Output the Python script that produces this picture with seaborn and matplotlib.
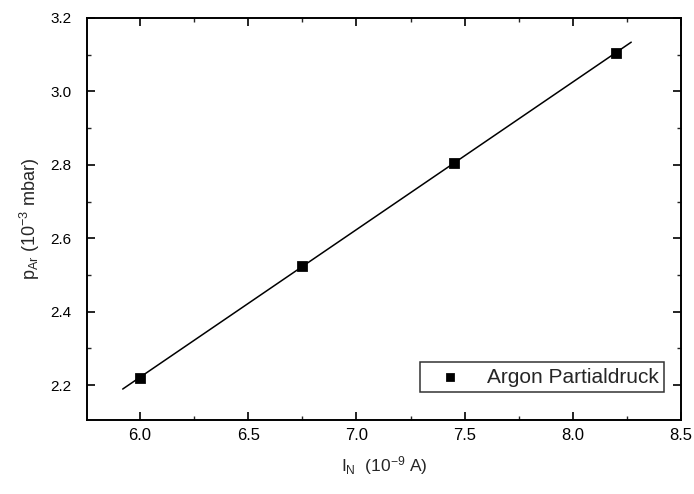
import numpy as np
import pandas as pd
import matplotlib
matplotlib.use("Agg")
import matplotlib.pyplot as plt
import seaborn as sns
from matplotlib.ticker import MultipleLocator, FormatStrFormatter

# Data
current = [6.0, 6.75, 7.45, 8.2]
pressure = [2.22, 2.525, 2.805, 3.105]
fit_range = [5.92, 8.27]
series_label = "Argon Partialdruck"

sns.set_style("ticks")
plt.rcParams['font.family'] = ['Liberation Sans', 'DejaVu Sans']
plt.rcParams['mathtext.default'] = 'regular'

df = pd.DataFrame({"I": current, "p": pressure})
slope, intercept = np.polyfit(current, pressure, 1)
fx = np.array(fit_range)
fit_df = pd.DataFrame({"I": fx, "p": slope * fx + intercept})

fig = plt.figure(figsize=(6.94, 4.94), dpi=100)
ax = fig.add_axes([87/694, 1 - 420/494, 594/694, 402/494])

sns.lineplot(data=fit_df, x="I", y="p", ax=ax, color="black", linewidth=1.1)
sns.scatterplot(data=df, x="I", y="p", ax=ax, marker="s", s=48, color="black",
                edgecolor="black", label=series_label, zorder=3)

ax.set_xlim(5.755, 8.5)
ax.set_ylim(2.105, 3.2)
ax.xaxis.set_major_locator(MultipleLocator(0.5))
ax.xaxis.set_minor_locator(MultipleLocator(0.25))
ax.yaxis.set_major_locator(MultipleLocator(0.2))
ax.yaxis.set_minor_locator(MultipleLocator(0.1))
ax.xaxis.set_major_formatter(FormatStrFormatter('%.1f'))
ax.yaxis.set_major_formatter(FormatStrFormatter('%.1f'))

ax.tick_params(which='major', direction='in', length=6, width=1.2, top=True, right=True,
               colors='black')
ax.tick_params(which='minor', direction='in', length=3, width=1.0, top=True, right=True)
ax.tick_params(axis='x', which='major', labelsize=12, pad=6)
ax.tick_params(axis='y', which='major', labelsize=11, pad=11)
for sp in ax.spines.values():
    sp.set_visible(True)
    sp.set_linewidth(1.4)
    sp.set_color('black')

ax.set_xlabel("I$_N$  (10$^{-9}$ A)", fontsize=12.5, labelpad=8)
ax.set_ylabel("p$_{Ar}$ (10$^{-3}$ mbar)", fontsize=13, labelpad=6)

leg = ax.legend(loc='lower right', bbox_to_anchor=(0.972, 0.07), borderaxespad=0,
                frameon=True, fancybox=False, edgecolor='black', fontsize=15,
                handlelength=2.4, handletextpad=0.6, borderpad=0.25, markerscale=0.85)
leg.get_frame().set_linewidth(1.1)

fig.savefig("out.png", dpi=100)
